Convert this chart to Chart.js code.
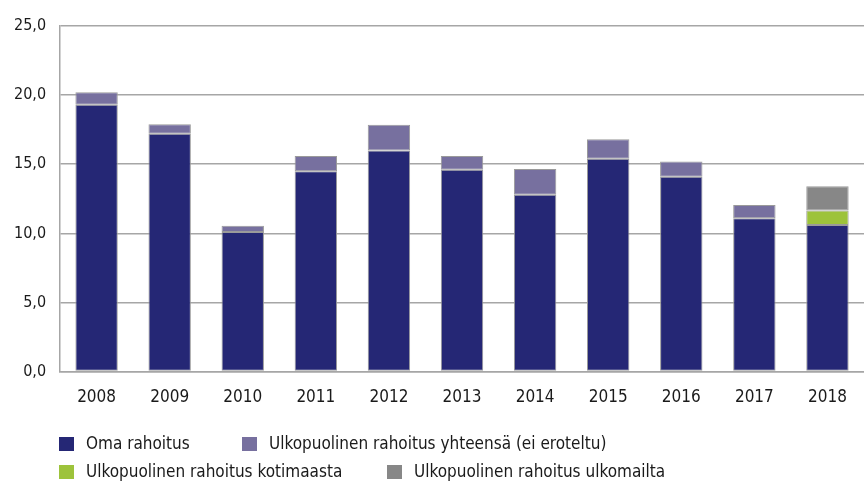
<!DOCTYPE html>
<html>
<head>
<meta charset="utf-8">
<script src="https://cdn.jsdelivr.net/npm/chart.js@4/dist/chart.umd.min.js"></script>
<style>
  html, body { margin: 0; padding: 0; background: #fff; }
  #wrap { position: relative; width: 864px; height: 485px; }
  #legenda { position: absolute; left: 0; top: 0; width: 864px; height: 485px; pointer-events: none;
    font-family: "Liberation Sans Narrow", "DejaVu Sans Condensed", sans-serif; font-size: 17px; color: #1a1a1a; }
  .item { position: absolute; display: flex; align-items: center; white-space: nowrap; line-height: 1; }
  .ruutu { width: 15px; height: 14px; margin-right: 12px; box-sizing: border-box; }
</style>
</head>
<body>
<div id="wrap">
  <canvas id="Grafico"></canvas>
  <div id="legenda"></div>
</div>
<script>
//Vuodet (x-akseli)
const vuodet = ['2008', '2009', '2010', '2011', '2012', '2013', '2014', '2015', '2016', '2017', '2018'];

//Sarjat (milj. euroa, luettu kuvasta)
const omaRahoitus = [19.3, 17.2, 10.1, 14.5, 16.0, 14.6, 12.8, 15.4, 14.1, 11.1, 10.6];
const ulkoYhteensa = [0.9, 0.7, 0.45, 1.1, 1.85, 1.0, 1.85, 1.4, 1.1, 0.95, null];
const ulkoKotimaa = [null, null, null, null, null, null, null, null, null, null, 1.05];
const ulkoUlkomaat = [null, null, null, null, null, null, null, null, null, null, 1.75];

//Y-akselin asteikko
const yMin = 0;
const yMax = 25;
const yAskel = 5;

const fontti = '"Liberation Sans Narrow", "DejaVu Sans Condensed", sans-serif';

const sarjat = [
  { label: 'Oma rahoitus', data: omaRahoitus, backgroundColor: '#252775' },
  { label: 'Ulkopuolinen rahoitus yhteensä (ei eroteltu)', data: ulkoYhteensa, backgroundColor: '#77709f' },
  { label: 'Ulkopuolinen rahoitus kotimaasta', data: ulkoKotimaa, backgroundColor: '#9dc33b' },
  { label: 'Ulkopuolinen rahoitus ulkomailta', data: ulkoUlkomaat, backgroundColor: '#878787' }
];

const contexto = document.getElementById('Grafico').getContext('2d');
const Grafico = new Chart(contexto, {
  type: 'bar',
  data: {
    labels: vuodet,
    datasets: sarjat.map(s => ({
      label: s.label,
      data: s.data,
      backgroundColor: s.backgroundColor,
      borderColor: '#9a9a9a',
      borderWidth: 1,
      borderSkipped: false,
      categoryPercentage: 1,
      barPercentage: 0.58
    }))
  },
  options: {
    responsive: true,
    maintainAspectRatio: false,
    animation: false,
    layout: { padding: { top: 26, left: 0, right: 0, bottom: 69 } },
    plugins: {
      legend: { display: false },
      tooltip: { enabled: false }
    },
    scales: {
      x: {
        stacked: true,
        grid: { display: false },
        border: { display: true, color: '#a6a6a6', width: 1.5 },
        ticks: { color: '#1a1a1a', font: { family: fontti, size: 17 }, padding: 8 }
      },
      y: {
        stacked: true,
        min: yMin,
        max: yMax,
        grid: { color: '#a6a6a6', lineWidth: 1.5, drawTicks: false },
        border: { display: true, color: '#a6a6a6', width: 1.5 },
        ticks: {
          stepSize: yAskel,
          padding: 14,
          color: '#1a1a1a',
          font: { family: fontti, size: 16 },
          callback: function(arvo) { return arvo.toFixed(1).replace('.', ','); }
        }
      }
    }
  }
});

//Selite kahdella rivillä
const selitePaikat = [[59, 444], [242, 444], [59, 472], [387, 472]];
const legenda = document.getElementById('legenda');
sarjat.forEach(function(s, i) {
  const item = document.createElement('div');
  item.className = 'item';
  item.style.left = selitePaikat[i][0] + 'px';
  item.style.top = (selitePaikat[i][1] - 9) + 'px';
  const ruutu = document.createElement('span');
  ruutu.className = 'ruutu';
  ruutu.style.background = s.backgroundColor;
  item.appendChild(ruutu);
  item.appendChild(document.createTextNode(s.label));
  legenda.appendChild(item);
});
</script>
</body>
</html>
